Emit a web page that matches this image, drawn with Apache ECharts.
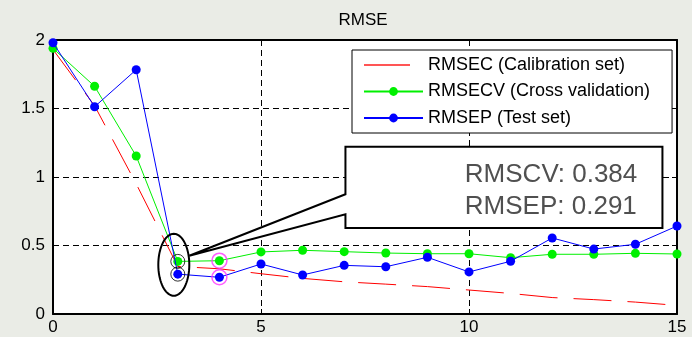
<!DOCTYPE html>
<html><head><meta charset="utf-8">
<script src="https://cdn.jsdelivr.net/npm/echarts@6/dist/echarts.min.js"></script>
<style>html,body{margin:0;padding:0;background:#eaece6;}#c{width:692px;height:337px;}</style>
</head><body><div id="c"></div>
<script>
// ---- data ----
const xValues = [0,1,2,3,4,5,6,7,8,9,10,11,12,13,14,15];
const rmsec  = [1.93,1.52,0.95,0.347,0.33,0.294,0.26,0.235,0.218,0.2,0.175,0.15,0.12,0.105,0.087,0.063];
const rmsecv = [1.939,1.662,1.153,0.384,0.389,0.453,0.465,0.455,0.445,0.44,0.44,0.411,0.436,0.436,0.443,0.438];
const rmsep  = [1.98,1.513,1.783,0.291,0.268,0.365,0.285,0.355,0.345,0.414,0.307,0.385,0.555,0.474,0.509,0.642];
const seriesNames = ['RMSEC (Calibration set)','RMSECV (Cross validation)','RMSEP (Test set)'];
const xTickStep = 5, xMin = 0, xMax = 15;
const yTickStep = 0.5, yMin = 0, yMax = 2;
const selIndex = 3;      // chosen number of components (circled)
const nextIndex = 4;     // magenta circled
const calloutLines = ['RMSCV: 0.384','RMSEP: 0.291'];

const FONT = "'Liberation Sans', Arial, sans-serif";
const chart = echarts.init(document.getElementById('c'));
const pair = a => xValues.map((x,i)=>[x,a[i]]);
const dashGrid = {show:true, lineStyle:{color:'#000', width:1, type:[6,4]}};
const axisLine = {show:true, onZero:false, lineStyle:{color:'#000', width:2}};
const tick = {show:true, inside:true, length:5, lineStyle:{color:'#000', width:1}};

chart.setOption({
  animation:false,
  backgroundColor:'transparent',
  title:{text:'RMSE', left:363, top:12, textAlign:'center', padding:0,
    textStyle:{fontFamily:FONT, fontSize:17, fontWeight:'normal', color:'#000'}},
  grid:{left:53, right:15, top:40, bottom:23, show:true, backgroundColor:'#fff', borderWidth:0},
  legend:{data:[{name:seriesNames[0], itemStyle:{opacity:0}, lineStyle:{type:[46,20], color:'#ff5555'}},
                {name:seriesNames[1]}, {name:seriesNames[2]}],
    orient:'vertical', left:352, top:50, padding:[6,22,6,11],
    itemWidth:59, itemHeight:11, itemGap:8.5, backgroundColor:'#fff', borderColor:'#000', borderWidth:1,
    textStyle:{fontFamily:FONT, fontSize:18, color:'#000'}},
  xAxis:[
    {type:'value', min:xMin, max:xMax, interval:xTickStep, position:'bottom',
     axisLine, axisTick:tick, splitLine:dashGrid,
     axisLabel:{fontFamily:FONT, fontSize:17, color:'#000', margin:5}},
    {type:'value', min:xMin, max:xMax, interval:xTickStep, position:'top',
     axisLine, axisTick:tick, splitLine:{show:false}, axisLabel:{show:false}}
  ],
  yAxis:[
    {type:'value', min:yMin, max:yMax, interval:yTickStep, position:'left',
     axisLine, axisTick:tick, splitLine:dashGrid,
     axisLabel:{fontFamily:FONT, fontSize:17, color:'#000', margin:8}},
    {type:'value', min:yMin, max:yMax, interval:yTickStep, position:'right',
     axisLine, axisTick:tick, splitLine:{show:false}, axisLabel:{show:false}}
  ],
  series:[
    {name:seriesNames[0], type:'line', data:pair(rmsec), showSymbol:false, symbol:'none',
     color:'#ff0000', lineStyle:{color:'#ff0000', width:1, type:[38,16]}, z:2},
    {name:seriesNames[1], type:'line', data:pair(rmsecv), symbol:'circle', symbolSize:9, showSymbol:true,
     color:'#00f000', itemStyle:{color:'#00f000'}, lineStyle:{color:'#00f000', width:1}, z:3},
    {name:seriesNames[2], type:'line', data:pair(rmsep), symbol:'circle', symbolSize:9, showSymbol:true,
     color:'#0000ff', itemStyle:{color:'#0000ff'}, lineStyle:{color:'#0000ff', width:1}, z:4},
    {name:'sel', type:'scatter', data:[[xValues[selIndex], rmsecv[selIndex]],[xValues[selIndex], rmsep[selIndex]]],
     symbol:'circle', symbolSize:14, itemStyle:{color:'rgba(0,0,0,0)', borderColor:'#000', borderWidth:1}, z:5, silent:true},
    {name:'next', type:'scatter', data:[[xValues[nextIndex], rmsecv[nextIndex]],[xValues[nextIndex], rmsep[nextIndex]]],
     symbol:'circle', symbolSize:15, itemStyle:{color:'rgba(0,0,0,0)', borderColor:'#ff33ff', borderWidth:1.5}, z:5, silent:true}
  ]
});

// ---- annotations (ellipse + callout), positioned through the axes ----
const P = (x,y) => chart.convertToPixel({gridIndex:0}, [x,y]);
const c = P(xValues[selIndex], (rmsecv[selIndex]+rmsep[selIndex])/2);
const ecx = c[0]-4, ecy = c[1]-3, erx = 15.5, ery = 31;
const ell = [];
for (let k=0;k<72;k++){const t=k/72*Math.PI*2; ell.push([ecx+erx*Math.cos(t), ecy+ery*Math.sin(t)]);}
const bx0 = P(7.03,0)[0], bx1 = P(14.65,0)[0];
const byTop = P(0,1.22)[1], byBot = P(0,0.628)[1];
const aHi = P(0,0.874)[1], aLo = P(0,0.728)[1];
const tip = [ecx+erx, ecy-9];
const tx = P(9.9,0)[0];
chart.setOption({graphic:[
  {type:'polygon', z:50, shape:{points:ell}, style:{fill:'none', stroke:'#000', lineWidth:2}},
  {type:'polygon', z:50, shape:{points:[[bx0,byTop],[bx1,byTop],[bx1,byBot],[bx0,byBot],[bx0,aLo],tip,[bx0,aHi]]},
   style:{fill:'#fff', stroke:'#000', lineWidth:2}},
  {type:'text', z:51, style:{text:calloutLines[0], x:tx, y:P(0,1.015)[1], font:"26px "+FONT, fill:'#505050', align:'left', verticalAlign:'middle'}},
  {type:'text', z:51, style:{text:calloutLines[1], x:tx, y:P(0,0.783)[1], font:"26px "+FONT, fill:'#505050', align:'left', verticalAlign:'middle'}}
]});
</script></body></html>
